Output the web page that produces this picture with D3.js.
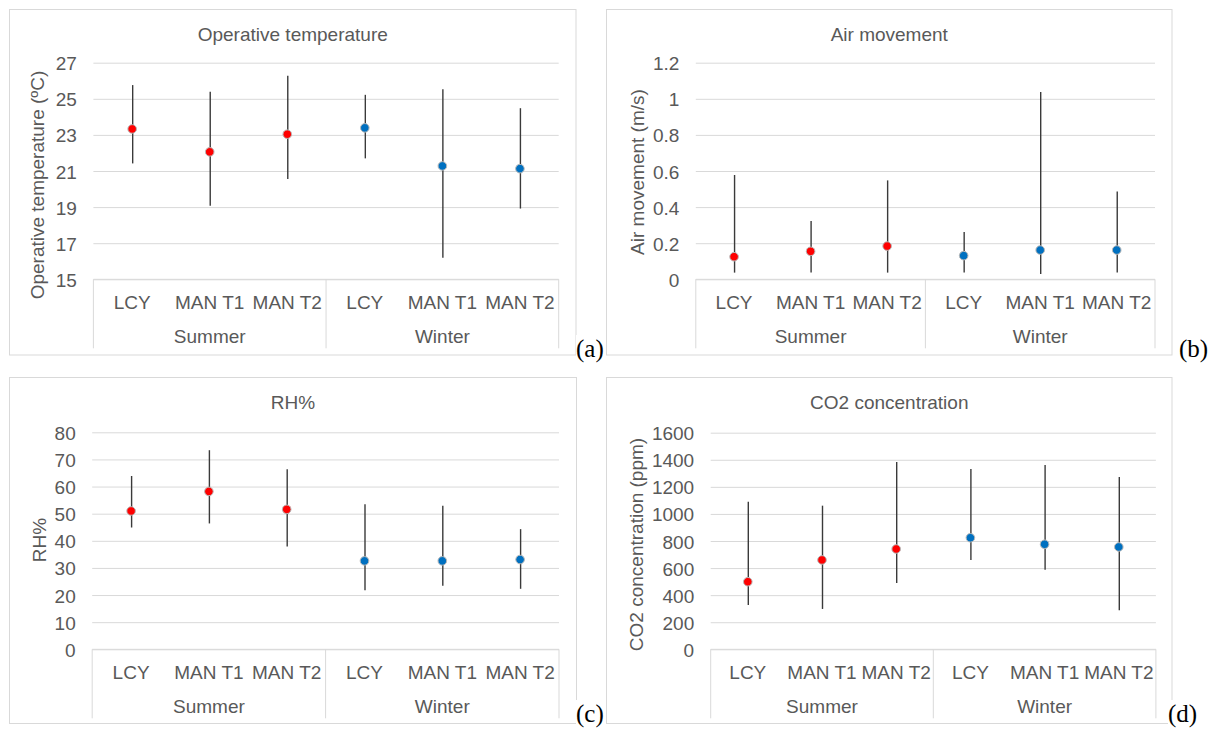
<!DOCTYPE html>
<html>
<head>
<meta charset="utf-8">
<script src="https://cdn.jsdelivr.net/npm/d3@7"></script>
<style>
  html, body { margin: 0; padding: 0; background: #fff; }
  svg { display: block; }
  text { font-family: "Liberation Sans", Arial, sans-serif; fill: #595959; }
</style>
</head>
<body>
<svg id="chart" width="1219" height="729"></svg>
<script>
// ---- data ----
const sites = ["LCY", "MAN T1", "MAN T2"];
const seasons = ["Summer", "Winter"];
const seasonColors = ["#FF0000", "#0070C0"];

// order: Summer LCY, MAN T1, MAN T2, Winter LCY, MAN T1, MAN T2
const tempMean = [23.33, 22.06, 23.04, 23.39, 21.28, 21.13];
const tempMax  = [25.76, 25.39, 26.28, 25.22, 25.53, 24.48];
const tempMin  = [21.42, 19.07, 20.56, 21.70, 16.20, 18.92];
const tempTicks = [15, 17, 19, 21, 23, 25, 27];

const airMean = [0.125, 0.155, 0.184, 0.131, 0.162, 0.162];
const airMax  = [0.578, 0.323, 0.548, 0.262, 1.037, 0.487];
const airMin  = [0.037, 0.037, 0.037, 0.037, 0.030, 0.037];
const airTicks = [0, 0.2, 0.4, 0.6, 0.8, 1, 1.2];

const rhMean = [51.0, 58.2, 51.6, 32.6, 32.6, 33.1];
const rhMax  = [63.9, 73.4, 66.4, 53.5, 52.9, 44.3];
const rhMin  = [44.9, 46.4, 37.9, 21.8, 23.4, 22.3];
const rhTicks = [0, 10, 20, 30, 40, 50, 60, 70, 80];

const co2Mean = [499, 660, 741, 824, 776, 756];
const co2Max  = [1090, 1061, 1384, 1331, 1361, 1273];
const co2Min  = [327, 298, 490, 660, 588, 288];
const co2Ticks = [0, 200, 400, 600, 800, 1000, 1200, 1400, 1600];

const titles = ["Operative temperature", "Air movement", "RH%", "CO2 concentration"];
const yTitles = ["Operative temperature (\u00BAC)", "Air movement (m/s)", "RH%", "CO2 concentration (ppm)"];
const panelTags = ["(a)", "(b)", "(c)", "(d)"];

// ---- layout ----
const panels = [
  { mean: tempMean, max: tempMax, min: tempMin, ticks: tempTicks, fmt: d => d,
    box: [9.5, 9.5, 576, 355], plot: [93.4, 558.7, 62.7, 279.3], yt: [37, 185], tag: [576, 357] },
  { mean: airMean, max: airMax, min: airMin, ticks: airTicks, fmt: d => d,
    box: [606.5, 9.5, 1172, 355], plot: [695.8, 1155, 62.7, 279.3], yt: [637, 172], tag: [1179, 357] },
  { mean: rhMean, max: rhMax, min: rhMin, ticks: rhTicks, fmt: d => d,
    box: [9.5, 377.5, 576.5, 723.5], plot: [92.2, 559, 432.3, 649.3], yt: [39, 540], tag: [576, 722] },
  { mean: co2Mean, max: co2Max, min: co2Min, ticks: co2Ticks, fmt: d => d,
    box: [606.5, 377.5, 1172, 723.5], plot: [710.7, 1155.9, 432.7, 649.3], yt: [636, 544.5], tag: [1168, 722] }
];

const svg = d3.select("#chart");
const FS = 19;
const labels = [];
seasons.forEach(s => sites.forEach(c => labels.push(s + "|" + c)));

panels.forEach((p, i) => {
  const [bx0, by0, bx1, by1] = p.box;
  const [px0, px1, py0, py1] = p.plot;
  const g = svg.append("g");

  // border
  g.append("rect").attr("x", bx0).attr("y", by0)
    .attr("width", bx1 - bx0).attr("height", by1 - by0)
    .attr("fill", "#fff").attr("stroke", "#d9d9d9").attr("stroke-width", 1);

  const y = d3.scaleLinear()
    .domain([p.ticks[0], p.ticks[p.ticks.length - 1]])
    .range([py1, py0]);
  const x = d3.scaleBand().domain(labels).range([px0, px1]).padding(0);

  // gridlines + tick labels
  const yAxis = d3.axisLeft(y).tickValues(p.ticks).tickFormat(p.fmt)
    .tickSizeInner(-(px1 - px0)).tickSizeOuter(0).tickPadding(16.5);
  const ag = g.append("g").attr("transform", `translate(${px0},0)`).call(yAxis);
  ag.select(".domain").remove();
  ag.selectAll(".tick line").attr("stroke", "#d9d9d9").attr("stroke-width", 1);
  ag.selectAll(".tick text").attr("font-size", FS).attr("fill", "#595959")
    .attr("dy", "0.37em").style("font-family", '"Liberation Sans", Arial, sans-serif');

  // category axis
  const catBottom = py1 + 69;
  [0, 3, 6].forEach(k => {
    const xx = k < 6 ? x(labels[k]) : px1;
    g.append("line").attr("x1", xx).attr("x2", xx).attr("y1", py1).attr("y2", catBottom)
      .attr("stroke", "#d9d9d9").attr("stroke-width", 1);
  });
  g.append("line").attr("x1", px0).attr("x2", px1).attr("y1", py1).attr("y2", py1)
    .attr("stroke", "#d9d9d9").attr("stroke-width", 1);

  g.selectAll("text.cat").data(labels).join("text").attr("class", "cat")
    .attr("x", d => x(d) + x.bandwidth() / 2).attr("y", py1 + 29.5)
    .attr("text-anchor", "middle").attr("font-size", FS)
    .text(d => d.split("|")[1]);
  seasons.forEach((s, si) => {
    const a = x(labels[si * 3]);
    const b = x(labels[si * 3 + 2]) + x.bandwidth();
    g.append("text").attr("x", (a + b) / 2).attr("y", py1 + 64)
      .attr("text-anchor", "middle").attr("font-size", FS).text(s);
  });

  // whiskers
  g.selectAll("line.wh").data(labels).join("line").attr("class", "wh")
    .attr("x1", d => x(d) + x.bandwidth() / 2 + 0.5)
    .attr("x2", d => x(d) + x.bandwidth() / 2 + 0.5)
    .attr("y1", (d, k) => y(p.max[k])).attr("y2", (d, k) => y(p.min[k]))
    .attr("stroke", "#3a3a3a").attr("stroke-width", 1.4);

  // dots
  g.selectAll("circle.pt").data(labels).join("circle").attr("class", "pt")
    .attr("cx", d => x(d) + x.bandwidth() / 2)
    .attr("cy", (d, k) => y(p.mean[k]))
    .attr("r", 4.3)
    .attr("fill", (d, k) => seasonColors[Math.floor(k / 3)])
    .attr("stroke", "#b8b8b8").attr("stroke-width", 1);

  // title
  g.append("text").attr("x", (bx0 + bx1) / 2).attr("y", by0 + 31)
    .attr("text-anchor", "middle").attr("font-size", FS).text(titles[i]);

  // y axis title
  g.append("text").attr("transform", `translate(${p.yt[0]},${p.yt[1]}) rotate(-90)`)
    .attr("text-anchor", "middle").attr("dominant-baseline", "central")
    .attr("font-size", FS).text(yTitles[i]);

  // panel tag
  const tag = svg.append("text").attr("x", p.tag[0]).attr("y", p.tag[1])
    .attr("font-size", 25).style("font-family", '"Liberation Serif", "Times New Roman", serif')
    .style("fill", "#000").text(panelTags[i]);
  const bb = tag.node().getBBox();
  svg.insert("rect", () => tag.node())
    .attr("x", bb.x).attr("y", bb.y).attr("width", bb.width).attr("height", bb.height)
    .attr("fill", "#fff");
});
</script>
</body>
</html>
